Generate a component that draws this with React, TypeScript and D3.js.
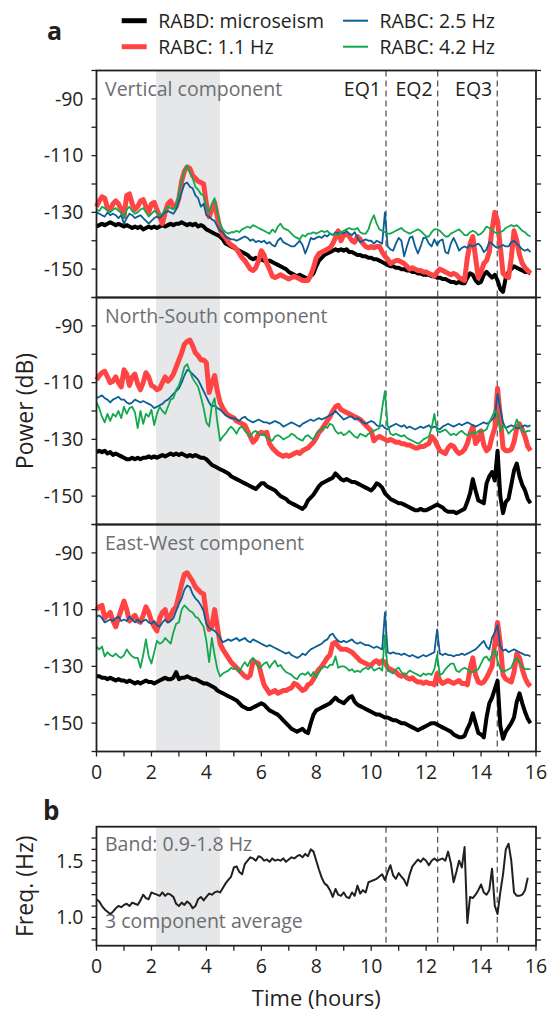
import React from 'react'
import * as d3 from 'd3'

// hourly spectra sampled every 0.1 h, starting at 0 h
const STEP = 0.1

// Vertical component (dB)
const vertBlack = [
  -135, -134.5, -134, -134.5, -134, -133.5, -134, -134.5, -134, -134.5,
  -135, -134.5, -135, -135.5, -135, -135.5, -135, -136, -135.5, -135,
  -135.5, -135, -135.5, -135, -134.5, -135, -134.5, -134, -134.5, -134,
  -134, -133.5, -134, -134.5, -134, -134.5, -134, -135, -134.5, -135,
  -136, -136.5, -137, -137.5, -138, -138.5, -139.5, -141, -141.5, -142,
  -142.5, -143, -143.5, -144, -144.5, -145, -146, -146.5, -146, -147,
  -146.5, -147, -147.5, -147, -147.5, -148, -148.5, -149, -149.5, -150,
  -151, -151.5, -152, -152.5, -152, -152.5, -153, -153.5, -152.5, -151.5,
  -149, -147, -146, -145, -144.5, -144, -143.5, -143, -143.5, -143,
  -143.5, -143, -144, -144, -144.5, -145, -145, -145.5, -145.5, -146,
  -146, -146.5, -146.5, -147, -147.5, -148, -148.5, -149, -149, -149.5,
  -149.5, -150, -150, -150.5, -150.5, -151, -151, -151.5, -151.5, -152,
  -152, -152, -152.5, -152.5, -153, -153, -153.5, -153.5, -154, -154.5,
  -154.5, -155, -154.5, -155, -155, -153, -151.5, -152, -154, -155,
  -154.5, -152, -151, -152, -153, -152, -154, -157, -158, -153,
  -151, -150, -149, -149.5, -150, -150.5, -151, -151, -151.5,
]
const vertRed = [
  -128, -126, -124.5, -125, -128.5, -129, -127, -126, -127, -129,
  -131.5, -124, -123.5, -127, -129, -128, -126, -125.5, -128, -130,
  -127, -126.5, -129, -131.5, -134, -130, -127, -126, -128, -128,
  -125, -119, -115.5, -114, -114.5, -117, -118, -119, -119.5, -120,
  -127, -131.5, -129, -126.5, -131.5, -136, -138, -139, -140.5, -141.5,
  -142, -143, -144.5, -146, -147, -148.5, -150, -150.5, -149.5, -147,
  -143.5, -145, -148, -150, -152.5, -153, -152.5, -152, -152.5, -153,
  -153.5, -153, -152.5, -153, -153.5, -154, -154, -154, -152, -149.5,
  -146, -144.5, -144, -143.5, -143, -142.5, -141, -139, -136.5, -140,
  -138, -137.5, -138.5, -140, -140.5, -138.5, -139.5, -141, -142, -142.5,
  -142, -142.5, -142, -142, -144, -145.5, -146.5, -148, -147.5, -147,
  -147, -147.5, -148, -149, -150, -149.5, -150, -150.5, -150.5, -151,
  -151, -151.5, -152, -152.5, -151, -150, -150.5, -151, -151.5, -152,
  -151.5, -152, -153, -153.5, -154, -146, -141, -138.5, -146, -153,
  -151, -148, -147, -144, -136, -130, -133, -142, -151.5, -152.5,
  -153, -146, -136.5, -140, -145, -148, -149.5, -150.5, -151.5,
]
const vertBlue = [
  -130, -130.5, -131, -131.5, -130, -131, -130.5, -131, -132, -131,
  -134, -132, -130.5, -131, -132, -131.5, -131, -132, -133, -134,
  -133, -132, -131.5, -132, -131, -130, -129.5, -130, -130.5, -129,
  -126, -123, -120, -119.5, -121, -121.5, -124, -125, -128, -127,
  -131, -131.5, -132.5, -133, -135, -136.5, -137, -138.5, -139, -139.5,
  -139.5, -140, -139.5, -139, -138.5, -139, -140, -139.5, -140.5, -140,
  -140.5, -140, -141, -140.5, -141.5, -142, -140, -139, -140.5, -141,
  -141.5, -142, -142, -141, -140, -141.5, -144.5, -142, -139, -139.5,
  -139, -138.5, -139, -138, -138.5, -137.5, -138, -137, -137.5, -137,
  -137.5, -136.5, -137.5, -138, -137, -139, -140.5, -140, -139.5, -140,
  -140, -141, -140, -140.5, -141, -130, -142, -143, -143.5, -141,
  -139, -140, -145.5, -142, -139, -138.5, -142, -144.5, -142, -139,
  -139, -141, -142, -139.5, -141.5, -140, -139.5, -144, -144.5, -141,
  -139, -141, -143.5, -142.5, -142, -142.5, -141.5, -142, -141.5, -141,
  -142, -144, -143, -140.5, -141, -142, -142.5, -142, -141.5, -142,
  -142, -140.5, -140, -141, -142, -143, -143.5, -143, -144,
]
const vertGreen = [
  -129, -129.5, -128, -128.5, -129.5, -130, -129, -128.5, -129.5, -130,
  -132, -129, -128, -129.5, -130.5, -130, -129, -128.5, -130, -131.5,
  -130.5, -129.5, -130, -131, -130.5, -129, -128, -128.5, -129, -127.5,
  -123, -119, -115, -113.5, -116, -118, -121, -122, -123.5, -124,
  -128, -130, -127, -125, -130, -134, -136, -137, -137.5, -137,
  -137, -136.5, -137, -136, -135.5, -135, -135.5, -134.5, -135, -135.5,
  -136, -136.5, -137, -137.5, -136, -137, -135, -134, -135.5, -136,
  -136.5, -137.5, -138.5, -139, -139.5, -138, -138.5, -137.5, -137.5, -137,
  -137.5, -137, -136.5, -137, -136.5, -137.5, -138, -137.5, -138, -137,
  -136.5, -136, -135.5, -136, -136, -135.5, -137, -137.5, -137.5, -136,
  -133, -131, -134, -136, -136.5, -137, -137.5, -137.5, -137, -136.5,
  -136, -135.5, -136.5, -137, -137.5, -137, -136.5, -136, -136.5, -137.5,
  -138.5, -138.5, -137, -136, -136, -136.5, -137.5, -138.5, -138.5, -137.5,
  -137, -136.5, -136, -137, -138, -138, -137, -136.5, -137, -138,
  -137.5, -136.5, -135, -135.5, -136.5, -137, -137.5, -137, -136.5, -135.5,
  -135, -134.5, -135, -134.5, -135.5, -136.5, -137, -138, -138.5,
]

// North-South component (dB)
const nsBlack = [
  -134.5, -134, -134.5, -134, -135, -134.5, -135.5, -135, -135.5, -136,
  -136.5, -137, -137, -136.5, -137, -136.5, -137, -136.5, -136.5, -136,
  -136.5, -136, -136.5, -136, -135.5, -136, -135.5, -135, -135.5, -135,
  -135.5, -135, -135.5, -136, -135.5, -136, -135.5, -136, -136.5, -136.5,
  -137, -138, -139, -139.5, -140, -140.5, -141, -141.5, -142, -143,
  -143.5, -144, -144.5, -145, -145.5, -146, -146.5, -147, -147.5, -146.5,
  -145.5, -145.5, -146.5, -147, -147.5, -148, -149, -150, -150.5, -151,
  -152, -152.5, -153, -153.5, -154, -154.5, -153.5, -151.5, -150.5, -149.5,
  -148, -146.5, -145.5, -145, -144.5, -144, -143.5, -142, -143, -144,
  -144.5, -144, -144.5, -145, -145, -145.5, -146, -146.5, -147, -147.5,
  -148, -147, -145.5, -146, -147, -149, -150, -151, -151.5, -152,
  -152.5, -152.5, -153, -153.5, -154, -154.5, -155, -155, -154.5, -155,
  -155, -154.5, -154, -153.5, -153, -153.5, -154, -155, -155.5, -155.5,
  -155.5, -156, -155.5, -155, -154.5, -152, -149, -144, -148, -151.5,
  -152, -152.5, -145.5, -143, -141.5, -144.5, -134, -150, -156, -152,
  -151, -146, -141, -138.5, -143, -146, -148, -151, -152.5,
]
const nsRed = [
  -109, -107.5, -106.5, -106, -108, -110, -109.5, -108, -110, -111.5,
  -105.5, -107, -111, -108, -107, -110.5, -112.5, -110, -106.5, -108,
  -111, -111.5, -112.5, -112, -110, -108, -109.5, -108.5, -107, -104.5,
  -102, -99.5, -96.5, -95.5, -95, -97, -99.5, -100.5, -102, -102,
  -103, -113.5, -110, -107.5, -113, -117, -119, -120.5, -121.5, -122,
  -122.5, -123.5, -124, -124.5, -125, -127, -129, -131, -130, -128,
  -127.5, -128, -127.5, -131.5, -133, -134, -135, -135.5, -136, -135.5,
  -136, -135.5, -135, -134.5, -135, -134, -133.5, -133, -132, -131,
  -129.5, -127.5, -126.5, -125, -123.5, -122, -120, -118.5, -118, -119.5,
  -120, -120.5, -121, -121.5, -122, -122.5, -123, -124, -125, -126,
  -127, -130.5, -129.5, -129, -129.5, -130, -130.5, -130, -130.5, -131,
  -131, -131.5, -131.5, -132, -132, -132.5, -133, -133, -132.5, -132.5,
  -132, -131.5, -129, -130, -132, -134, -134.5, -135, -133, -132,
  -132.5, -134, -135, -134.5, -133.5, -131.5, -128, -125.5, -131.5, -130,
  -127, -132, -134, -133, -129, -126, -112, -122, -133, -134,
  -134, -133.5, -131, -126, -124.5, -126.5, -129, -132.5, -134,
]
const nsBlue = [
  -115.5, -115, -114.5, -115.5, -116, -117, -116, -115.5, -115, -116,
  -116, -117, -117.5, -117, -116, -116.5, -117, -116.5, -117, -117.5,
  -118, -119, -118.5, -118, -117.5, -116.5, -116, -115, -114, -113,
  -112, -110, -107.5, -105.5, -106, -107, -108, -109, -111, -113,
  -115, -117, -118.5, -118, -119, -119.5, -120.5, -121.5, -122, -122.5,
  -122.5, -123, -123.5, -122.5, -122, -123, -123.5, -124, -123.5, -123,
  -123.5, -124, -124, -124.5, -124, -123.5, -124, -124.5, -125.5, -125,
  -124.5, -124, -124.5, -125, -125.5, -124.5, -124, -123.5, -123, -123.5,
  -123, -122.5, -123, -122.5, -122, -121.5, -121, -120, -121, -122,
  -123, -122.5, -122, -122, -123, -122.5, -123, -124, -124.5, -124,
  -123.5, -124, -125, -125.5, -125, -126, -126.5, -125.5, -125, -124.5,
  -125, -125.5, -125, -126, -125.5, -126, -126.5, -126, -125.5, -126,
  -125.5, -125, -126, -125.5, -126, -126.5, -125.5, -125, -124.5, -125,
  -125.5, -125, -124.5, -125, -124.5, -124, -124.5, -125, -125.5, -125,
  -124.5, -124, -124.5, -124, -123, -122, -114, -119, -124, -126,
  -125.5, -125, -125.5, -126, -126, -125.5, -125, -125.5, -125,
]
const nsGreen = [
  -117, -119, -122, -124, -121, -123.5, -121, -122, -120, -122.5,
  -118.5, -121, -119, -118.5, -120.5, -126, -120, -124.5, -121, -122,
  -119.5, -125, -121, -118.5, -120, -121, -118.5, -116, -115.5, -112.5,
  -111, -108, -104.5, -103.5, -106, -108.5, -110, -111.5, -115, -119,
  -124, -125.5, -118, -115.5, -124, -130.5, -129, -128, -126.5, -125.5,
  -126.5, -128, -126, -125.5, -127, -128, -129, -127.5, -127, -128,
  -128.5, -128, -129.5, -130, -130.5, -129, -128.5, -129, -130, -129.5,
  -129, -128, -128.5, -129.5, -130, -130.5, -129, -128.5, -129.5, -130,
  -128, -127, -126.5, -125.5, -126, -124.5, -125, -127, -128, -127.5,
  -128.5, -128, -127, -128, -129, -129.5, -128, -128.5, -129, -128,
  -127.5, -127, -126.5, -126, -119, -113, -125, -128, -128.5, -128,
  -128.5, -129, -128.5, -129.5, -130, -130.5, -131, -131.5, -131, -130,
  -129.5, -129, -126, -121, -127, -127.5, -127, -126.5, -127.5, -128.5,
  -128, -128.5, -127.5, -127, -128, -128.5, -128, -127.5, -128, -127,
  -127.5, -127, -126.5, -124, -122, -120, -121, -127, -125, -126,
  -128, -127, -126, -123, -125, -127, -127.5, -127, -127,
]

// East-West component (dB)
const ewBlack = [
  -133.5, -133.5, -134, -134, -134.5, -134, -134.5, -135, -134.5, -135,
  -135, -135.5, -135, -135.5, -136, -135.5, -136, -135.5, -135, -135.5,
  -135.5, -136, -135.5, -135, -134.5, -134, -134.5, -134.5, -134, -132,
  -134.5, -134, -134, -133.5, -134, -134.5, -134.5, -135, -135.5, -136,
  -136, -136.5, -137, -137.5, -138.5, -139, -139.5, -140, -140.5, -141,
  -141.5, -142, -143, -144, -144.5, -145, -145, -144.5, -144, -143.5,
  -143, -143.5, -144.5, -145.5, -146, -146.5, -147, -148, -149, -150,
  -151, -152, -152.5, -153, -152.5, -152, -153, -153.5, -150, -147,
  -145.5, -145, -144.5, -144, -143.5, -143, -142, -141, -142, -142.5,
  -143, -142, -141, -140.5, -142.5, -143.5, -144, -144.5, -145, -145.5,
  -146, -146.5, -147, -147, -147.5, -148, -148, -148.5, -149, -149,
  -149.5, -150, -150, -150.5, -151, -151.5, -152, -152.5, -152, -151.5,
  -151, -150.5, -150, -150, -150.5, -151, -151.5, -152, -152.5, -153,
  -154, -154.5, -155, -155, -154.5, -152, -150, -146.5, -150, -153.5,
  -154, -155, -148, -143, -141, -138, -135, -151, -155.5, -153,
  -151.5, -150, -148, -142.5, -139.5, -143, -146, -148.5, -150,
]
const ewRed = [
  -110, -109, -108.5, -113, -112, -111, -114, -116, -113, -110,
  -107, -110, -114, -113, -112, -114, -114.5, -112, -109, -111,
  -114, -116, -117.5, -113, -111, -110, -114, -112, -110, -109,
  -105, -101, -97.5, -97, -98.5, -100, -102, -103, -104, -104.5,
  -112, -117, -116, -110, -116, -122, -124, -125.5, -127, -128.5,
  -129.5, -130.5, -131.5, -132.5, -133.5, -134, -133, -128, -128.5, -129,
  -133, -136.5, -138, -139.5, -139, -138.5, -139.5, -139, -138.5, -138.5,
  -138, -137.5, -136, -136.5, -137.5, -138.5, -138, -136.5, -136, -134.5,
  -132.5, -131, -130, -128.5, -127, -126, -122, -121.5, -123, -124,
  -124, -124, -124.5, -125, -126, -127, -128, -128.5, -129, -129.5,
  -129.5, -128.5, -128, -129, -128, -128.5, -130.5, -131, -131.5, -132,
  -133, -133.5, -133, -134, -134.5, -134, -135, -135.5, -135.5, -136,
  -135.5, -136, -136, -136.5, -132.5, -135, -136, -135.5, -135, -135.5,
  -136, -135.5, -135, -136, -136, -136.5, -131, -127, -133, -135.5,
  -136, -135.5, -134, -132, -130, -122, -114.5, -122, -133, -134.5,
  -135, -135.5, -132, -125.5, -127, -131, -134, -136, -137,
]
const ewBlue = [
  -112.5, -112, -113, -114.5, -114, -113.5, -114, -113, -112.5, -114,
  -113.5, -114, -112.5, -113.5, -114.5, -113.5, -114.5, -114, -113.5, -114.5,
  -115, -114, -115.5, -116, -114.5, -113.5, -114.5, -114, -113, -110.5,
  -108, -106, -103, -101.5, -102, -104.5, -106, -107, -108.5, -110.5,
  -115, -116.5, -117, -117.5, -118.5, -120, -121.5, -121, -120.5, -121,
  -120.5, -120, -121, -120.5, -120, -121, -121.5, -120.5, -121, -121.5,
  -122, -122.5, -123, -122.5, -123, -123.5, -124, -124.5, -125, -125.5,
  -125, -126, -126.5, -127, -126.5, -125.5, -126, -125, -124, -123.5,
  -123, -122.5, -122, -121, -120.5, -119, -118.5, -120, -121, -121.5,
  -121, -121.5, -121, -120.5, -121.5, -122, -121.5, -122, -122.5, -122.5,
  -123, -123.5, -123, -123.5, -124, -111, -125, -125.5, -125, -125.5,
  -125.5, -126, -125.5, -126, -126.5, -126, -126.5, -127, -126.5, -126,
  -126.5, -126, -125.5, -125, -117, -125.5, -126, -125.5, -126, -126,
  -126.5, -126, -126, -125.5, -126, -125.5, -125, -124.5, -124, -123,
  -122, -121, -123, -124, -120, -118, -115.5, -123, -124.5, -124,
  -125, -124.5, -124, -124.5, -125, -125.5, -126, -126, -126.5,
]
const ewGreen = [
  -123, -124, -123, -126.5, -125, -126, -126.5, -125.5, -126.5, -127,
  -126, -124, -125.5, -126.5, -127, -127, -130.5, -126, -120.5, -126.5,
  -129, -125, -121, -122, -121.5, -120, -121, -122, -118, -115,
  -114.5, -110, -108.5, -109.5, -110.5, -111, -112.5, -113, -114.5, -116,
  -121, -128.5, -120, -126, -131, -133.5, -132.5, -132, -131.5, -130.5,
  -131, -130.5, -132, -130, -128.5, -130, -128, -127, -128.5, -130.5,
  -130, -129, -128.5, -130.5, -129, -128, -130, -129.5, -131, -132,
  -132.5, -133, -134, -134.5, -133, -132.5, -133, -132, -133.5, -132,
  -134, -132, -130.5, -130, -130.5, -129.5, -129.5, -126.5, -130.5, -130,
  -130, -130.5, -131.5, -131, -132, -131.5, -132, -131, -130.5, -131,
  -130, -131.5, -131, -130.5, -131.5, -119, -131.5, -132, -132.5, -131,
  -130.5, -132, -133, -132.5, -131.5, -132, -132.5, -133, -133.5, -132.5,
  -133, -132.5, -133, -131, -126, -133, -132.5, -131, -130, -129,
  -129, -131.5, -132, -131, -130.5, -131, -132, -132, -131.5, -131,
  -129, -127, -126.5, -128, -126, -124, -128, -131, -132, -131.5,
  -131, -130.5, -128, -127, -128.5, -130, -131, -131, -131,
]

// band 0.9-1.8 Hz peak frequency, 3 component average (Hz)
const freqAvg = [
  1.16, 1.14, 1.1, 1.07, 1.05, 1.03, 1.05, 1.08, 1.1, 1.09,
  1.11, 1.12, 1.1, 1.13, 1.12, 1.11, 1.15, 1.2, 1.17, 1.16,
  1.22, 1.21, 1.2, 1.19, 1.22, 1.19, 1.21, 1.2, 1.18, 1.12,
  1.1, 1.13, 1.11, 1.14, 1.12, 1.08, 1.1, 1.16, 1.18, 1.15,
  1.18, 1.21, 1.2, 1.22, 1.23, 1.22, 1.26, 1.3, 1.33, 1.36,
  1.44, 1.45, 1.4, 1.38, 1.47, 1.5, 1.53, 1.52, 1.5, 1.54,
  1.53, 1.5, 1.51, 1.49, 1.52, 1.5, 1.51, 1.5, 1.52, 1.49,
  1.51, 1.53, 1.52, 1.54, 1.55, 1.53, 1.56, 1.54, 1.6, 1.58,
  1.5, 1.42, 1.35, 1.3, 1.28, 1.24, 1.18, 1.25, 1.2, 1.19,
  1.22, 1.18, 1.17, 1.22, 1.19, 1.28, 1.21, 1.24, 1.22, 1.31,
  1.32, 1.33, 1.34, 1.36, 1.38, 1.33, 1.4, 1.46, 1.37, 1.34,
  1.39, 1.36, 1.33, 1.28, 1.38, 1.45, 1.48, 1.51, 1.49, 1.52,
  1.5, 1.46, 1.5, 1.52, 1.5, 1.51, 1.52, 1.5, 1.58, 1.48,
  1.31, 1.4, 1.5, 1.44, 1.62, 0.95, 1.18, 1.17, 1.2, 1.24,
  1.29, 1.22, 1.2, 1.24, 1.43, 1.1, 1.03, 1.22, 1.38, 1.6,
  1.65, 1.5, 1.22, 1.19, 1.19, 1.2, 1.24, 1.35,
]

const componentTitles = ['Vertical component', 'North-South component', 'East-West component']
const componentData = [
  [vertBlack, vertRed, vertBlue, vertGreen],
  [nsBlack, nsRed, nsBlue, nsGreen],
  [ewBlack, ewRed, ewBlue, ewGreen],
]
const seriesNames = ['RABD: microseism', 'RABC: 1.1 Hz', 'RABC: 2.5 Hz', 'RABC: 4.2 Hz']
const seriesColors = ['#000000', '#ff4444', '#0b5e96', '#13a84f']
const seriesWidths = [4, 5, 1.8, 1.8]

const eqTimes = [10.54, 12.42, 14.59]
const eqNames = ['EQ1', 'EQ2', 'EQ3']
const shadeSpan = [2.17, 4.5]

const dbTicks = [-160, -150, -140, -130, -120, -110, -100, -90, -80]
const dbLabels = [-150, -130, -110, -90]
const hzTicks = [0.8, 0.9, 1.0, 1.1, 1.2, 1.3, 1.4, 1.5, 1.6, 1.7]
const hzLabels = [1.0, 1.5]
const hourTicks = d3.range(0, 17, 1)
const hourLabels = [0, 2, 4, 6, 8, 10, 12, 14, 16]

const W = 547
const H = 1013
const LEFT = 96.5
const RIGHT = 536
const TOP = 70.5
const PANEL_H = 227
const B_TOP = 826.7
const B_BOTTOM = 945.7
const FONT = "'Open Sans', 'Noto Sans', sans-serif"
const INK = '#231f20'
const GREY_TEXT = '#6d6e71'

const x = d3.scaleLinear().domain([0, 16]).range([LEFT, RIGHT])
const A_BOTTOM = TOP + 3 * PANEL_H

function ComponentPanel({ idx }: { idx: number }) {
  const top = TOP + idx * PANEL_H
  const y = d3.scaleLinear().domain([-160, -80]).range([top + PANEL_H, top])
  const series = componentData[idx]
  return (
    <g>
      {series.map((vals, s) => {
        const line = d3
          .line<number>()
          .x((_, i) => x(i * STEP))
          .y((d) => y(d))
        return (
          <path
            key={s}
            d={line(vals) || ''}
            fill="none"
            stroke={seriesColors[s]}
            strokeWidth={seriesWidths[s]}
            strokeLinejoin="round"
          />
        )
      })}
      <rect x={LEFT} y={top} width={RIGHT - LEFT} height={PANEL_H} fill="none" stroke={INK} strokeWidth={1.8} />
      {dbTicks.map((t) => (
        <g key={t}>
          <line x1={LEFT - 5} x2={LEFT} y1={y(t)} y2={y(t)} stroke={INK} strokeWidth={1.3} />
          <line x1={RIGHT} x2={RIGHT + 5} y1={y(t)} y2={y(t)} stroke={INK} strokeWidth={1.3} />
        </g>
      ))}
      {dbLabels.map((t) => (
        <text key={t} x={LEFT - 13} y={y(t)} dy="0.35em" textAnchor="end" fontSize={19.5} fill={INK}>
          {t}
        </text>
      ))}
      <text x={LEFT + 8.5} y={top + 25.5} fontSize={19.5} fill={GREY_TEXT}>
        {componentTitles[idx]}
      </text>
    </g>
  )
}

export default function App() {
  const yb = d3.scaleLinear().domain([0.75, 1.8]).range([B_BOTTOM, B_TOP])
  const freqLine = d3
    .line<number>()
    .x((_, i) => x(i * STEP))
    .y((d) => yb(d))

  return (
    <svg
      width={W}
      height={H}
      style={{ position: 'absolute', left: 0, top: 0, background: '#fff' }}
      fontFamily={FONT}
    >
      {/* legend */}
      {seriesNames.map((name, i) => {
        const col = i < 2 ? 0 : 1
        const row = i % 2
        const sx = col === 0 ? 121.7 : 343
        const sy = row === 0 ? 20.7 : 46.7
        return (
          <g key={name}>
            <line x1={sx} x2={sx + 25} y1={sy} y2={sy} stroke={seriesColors[i]} strokeWidth={i < 2 ? 5 : 2} />
            <text x={sx + 36.5} y={sy + 7.6} fontSize={19.5} fill={INK}>
              {name}
            </text>
          </g>
        )
      })}
      <text x={47} y={40} fontSize={25} fontWeight="bold" fill={INK}>
        a
      </text>

      {/* panel a: shading and earthquake markers */}
      <rect x={x(shadeSpan[0])} y={TOP} width={x(shadeSpan[1]) - x(shadeSpan[0])} height={3 * PANEL_H} fill="#e6e7e8" />
      {eqTimes.map((t, i) => (
        <g key={t}>
          <line x1={x(t)} x2={x(t)} y1={TOP} y2={A_BOTTOM} stroke="#58595b" strokeWidth={1.3} strokeDasharray="6,4" />
          <text x={x(t) - 5} y={TOP + 25.5} textAnchor="end" fontSize={19.5} fill={INK}>
            {eqNames[i]}
          </text>
        </g>
      ))}

      {[0, 1, 2].map((i) => (
        <ComponentPanel key={i} idx={i} />
      ))}

      {hourTicks.map((h) => (
        <line key={h} x1={x(h)} x2={x(h)} y1={A_BOTTOM} y2={A_BOTTOM + 5} stroke={INK} strokeWidth={1.3} />
      ))}
      {hourLabels.map((h) => (
        <text key={h} x={x(h)} y={A_BOTTOM + 27.6} textAnchor="middle" fontSize={19.5} fill={INK}>
          {h}
        </text>
      ))}
      <text
        transform={`translate(33,${(TOP + A_BOTTOM) / 2}) rotate(-90)`}
        textAnchor="middle"
        fontSize={23}
        fill={INK}
      >
        Power (dB)
      </text>

      {/* panel b */}
      <text x={43} y={820} fontSize={26} fontWeight="bold" fill={INK}>
        b
      </text>
      <rect x={x(shadeSpan[0])} y={B_TOP} width={x(shadeSpan[1]) - x(shadeSpan[0])} height={B_BOTTOM - B_TOP} fill="#e6e7e8" />
      {eqTimes.map((t) => (
        <line key={t} x1={x(t)} x2={x(t)} y1={B_TOP} y2={B_BOTTOM} stroke="#58595b" strokeWidth={1.3} strokeDasharray="6,4" />
      ))}
      <text x={LEFT + 8.5} y={B_TOP + 24} fontSize={19.5} fill={GREY_TEXT}>
        Band: 0.9-1.8 Hz
      </text>
      <text x={LEFT + 8.5} y={B_BOTTOM - 17.4} fontSize={19.5} fill={GREY_TEXT}>
        3 component average
      </text>
      <path d={freqLine(freqAvg) || ''} fill="none" stroke={INK} strokeWidth={2} strokeLinejoin="round" />
      <rect x={LEFT} y={B_TOP} width={RIGHT - LEFT} height={B_BOTTOM - B_TOP} fill="none" stroke={INK} strokeWidth={1.8} />
      {hzTicks.map((t) => (
        <g key={t}>
          <line x1={LEFT - 5} x2={LEFT} y1={yb(t)} y2={yb(t)} stroke={INK} strokeWidth={1.3} />
          <line x1={RIGHT} x2={RIGHT + 5} y1={yb(t)} y2={yb(t)} stroke={INK} strokeWidth={1.3} />
        </g>
      ))}
      {hzLabels.map((t) => (
        <text key={t} x={LEFT - 13} y={yb(t)} dy="0.35em" textAnchor="end" fontSize={19.5} fill={INK}>
          {t.toFixed(1)}
        </text>
      ))}
      {hourTicks.map((h) => (
        <line key={h} x1={x(h)} x2={x(h)} y1={B_BOTTOM} y2={B_BOTTOM + 5} stroke={INK} strokeWidth={1.3} />
      ))}
      {hourLabels.map((h) => (
        <text key={h} x={x(h)} y={B_BOTTOM + 27.5} textAnchor="middle" fontSize={19.5} fill={INK}>
          {h}
        </text>
      ))}
      <text
        transform={`translate(33,${(B_TOP + B_BOTTOM) / 2}) rotate(-90)`}
        textAnchor="middle"
        fontSize={23}
        fill={INK}
      >
        Freq. (Hz)
      </text>
      <text x={(LEFT + RIGHT) / 2} y={1005.5} textAnchor="middle" fontSize={22} fill={INK}>
        Time (hours)
      </text>
    </svg>
  )
}
